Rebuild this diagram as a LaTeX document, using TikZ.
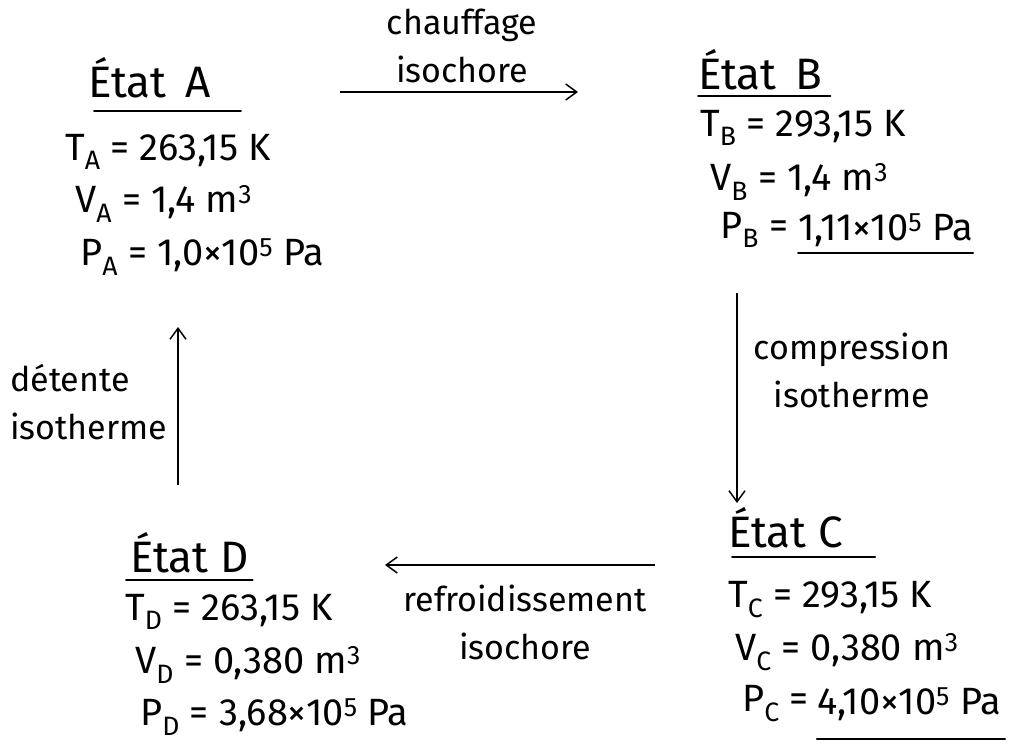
\documentclass[tikz,border=0pt]{standalone}
\usepackage{fontspec}
\setmainfont{Fira Sans}
\usepackage{tikz}
\usetikzlibrary{arrows.meta,positioning,calc}
\newcommand{\sub}[1]{\textsubscript{#1}}
\newcommand{\sups}[1]{\textsuperscript{#1}}

\begin{document}
\begin{tikzpicture}[
  x=1pt, y=-1pt,
  font=\fontsize{38}{42}\selectfont,
  val/.style={anchor=west, inner sep=0pt},
  titre/.style={val, font=\fontsize{44}{48}\selectfont},
  lab/.style={font=\fontsize{34}{48}\selectfont, align=center, inner sep=0pt},
  uline/.style={line width=2pt, line cap=round},
  arr/.style={-{Straight Barb[length=11pt, width=16pt]}, line width=1.5pt}
]
  \useasboundingbox (0,0) rectangle (1011,746);

  % etat A
  \node[titre] (sA) at (88,78) {État\, A};
  \node[val] (tA) at (65,152) {T\sub{A} = 263,15 K};
  \node[val] (vA) at (75,204) {V\sub{A} = 1,4 m\sups{3}};
  \node[val] (pA) at (80,257) {P\sub{A} = 1,0×10\sups{5} Pa};

  % etat B
  \node[titre] (sB) at (698,70) {État\, B};
  \node[val] (tB) at (700,128) {T\sub{B} = 293,15 K};
  \node[val] (vB) at (710,182) {V\sub{B} = 1,4 m\sups{3}};
  \node[val] (pB) at (720,230) {P\sub{B} =};
  \node[val, right=10pt of pB] (pBv) {1,11×10\sups{5} Pa};

  % etat C
  \node[titre] (sC) at (728,528) {État C};
  \node[val] (tC) at (728,600) {T\sub{C} = 293,15 K};
  \node[val] (vC) at (735,652) {V\sub{C} = 0,380 m\sups{3}};
  \node[val] (pC) at (742,704) {P\sub{C} =};
  \node[val, right=8pt of pC] (pCv) {4,10×10\sups{5} Pa};

  % etat D
  \node[titre] (sD) at (130,553) {État D};
  \node[val] (tD) at (125,612) {T\sub{D} = 263,15 K};
  \node[val] (vD) at (135,665) {V\sub{D} = 0,380 m\sups{3}};
  \node[val] (pD) at (140,717) {P\sub{D} = 3,68×10\sups{5} Pa};

  % soulignements
  \draw[uline] ($(sA.south west)+(6,12)$) -- ($(sA.south east)+(30,12)$);
  \draw[uline] ($(sB.south west)+(0,5)$) -- ($(sB.south east)+(8,5)$);
  \draw[uline] ($(pBv.south west)+(0,6)$) -- ($(pBv.south east)+(0,6)$);
  \draw[uline] ($(sC.south west)+(4,8)$) -- ($(sC.south east)+(32,8)$);
  \draw[uline] ($(pCv.south west)+(0,18)$) -- ($(pCv.south east)+(4,18)$);
  \draw[uline] ($(sD.south west)+(-4,6)$) -- ($(sD.south east)+(4,6)$);

  % transformations
  \coordinate (ab1) at (340,92);  \coordinate (ab2) at (578,92);
  \coordinate (bc1) at (737,293); \coordinate (bc2) at (737,503);
  \coordinate (cd1) at (655,565); \coordinate (cd2) at (385,565);
  \coordinate (da1) at (178,485); \coordinate (da2) at (178,327);

  \draw[arr] (ab1) -- (ab2);
  \draw[arr] (bc1) -- (bc2);
  \draw[arr] (cd1) -- (cd2);
  \draw[arr] (da1) -- (da2);

  \node[lab] (lab) at (462,46) {chauffage\\isochore};
  \node[lab] (lbc) at (852,370) {compression\\isotherme};
  \node[lab] (lcd) at (525,622) {refroidissement\\isochore};
  \node[lab, align=left, anchor=west] (lda) at (10,402) {détente\\isotherme};
\end{tikzpicture}
\end{document}
